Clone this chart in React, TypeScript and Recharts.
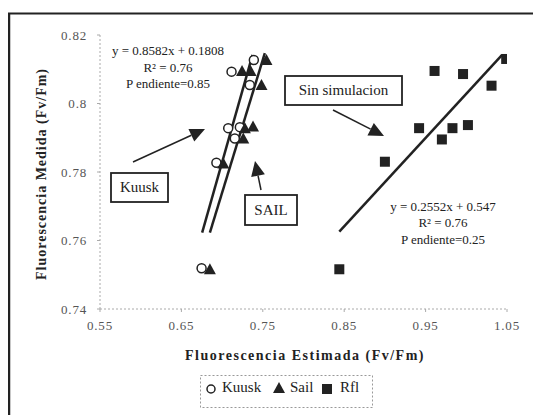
import React from 'react';
import { ScatterChart, Scatter, XAxis, YAxis } from 'recharts';

const kuusk = [
  { x: 0.739, y: 0.8127 },
  { x: 0.7116, y: 0.8093 },
  { x: 0.734, y: 0.8054 },
  { x: 0.7075, y: 0.7928 },
  { x: 0.7218, y: 0.7931 },
  { x: 0.7156, y: 0.7898 },
  { x: 0.693, y: 0.7827 },
  { x: 0.6748, y: 0.7519 },
];
const sail = [
  { x: 0.7545, y: 0.8127 },
  { x: 0.7245, y: 0.8095 },
  { x: 0.735, y: 0.8095 },
  { x: 0.7484, y: 0.8054 },
  { x: 0.728, y: 0.7928 },
  { x: 0.738, y: 0.7933 },
  { x: 0.726, y: 0.7898 },
  { x: 0.7015, y: 0.7825 },
  { x: 0.685, y: 0.7516 },
];
const rfl = [
  { x: 1.049, y: 0.813 },
  { x: 0.961, y: 0.8095 },
  { x: 0.996, y: 0.8086 },
  { x: 1.031, y: 0.8052 },
  { x: 0.942, y: 0.7928 },
  { x: 0.983, y: 0.7928 },
  { x: 1.002, y: 0.7937 },
  { x: 0.97, y: 0.7895 },
  { x: 0.9, y: 0.783 },
  { x: 0.844, y: 0.7516 },
];
const kuuskFit = [
  { x: 0.6755, y: 0.7623 },
  { x: 0.7374, y: 0.8142 },
];
const sailFit = [
  { x: 0.685, y: 0.7623 },
  { x: 0.7525, y: 0.8147 },
];
const rflFit = [
  { x: 0.844, y: 0.7626 },
  { x: 1.044, y: 0.8142 },
];
const xTicks = [0.55, 0.65, 0.75, 0.85, 0.95, 1.05];
const yTicks = [0.74, 0.76, 0.78, 0.8, 0.82];

const FONT = '"Liberation Serif", "DejaVu Serif", serif';
const INK = '#222';

const CircleShape = (p: any) => (
  <circle cx={p.cx} cy={p.cy} r={4.5} fill="#fff" stroke={INK} strokeWidth={1.5} />
);
const TriShape = (p: any) => (
  <polygon
    points={`${p.cx},${p.cy - 6} ${p.cx - 6},${p.cy + 5} ${p.cx + 6},${p.cy + 5}`}
    fill={INK}
  />
);
const SquareShape = (p: any) => (
  <rect x={p.cx - 5} y={p.cy - 5} width={10} height={10} fill={INK} />
);
const NoShape = () => <g />;

function Arrow({ x1, y1, x2, y2 }: { x1: number; y1: number; x2: number; y2: number }) {
  const dx = x2 - x1;
  const dy = y2 - y1;
  const len = Math.sqrt(dx * dx + dy * dy);
  const ux = dx / len;
  const uy = dy / len;
  const hl = 15;
  const hw = 7;
  const bx = x2 - ux * hl;
  const by = y2 - uy * hl;
  const px = -uy;
  const py = ux;
  return (
    <g>
      <line x1={x1} y1={y1} x2={bx} y2={by} stroke={INK} strokeWidth={1.5} />
      <polygon
        points={`${x2},${y2} ${bx + px * hw},${by + py * hw} ${bx - px * hw},${by - py * hw}`}
        fill={INK}
      />
    </g>
  );
}

function Box({ x, y, w, h, text, size }: { x: number; y: number; w: number; h: number; text: string; size: number }) {
  return (
    <g>
      <rect x={x} y={y} width={w} height={h} fill="#fff" stroke={INK} strokeWidth={1.8} />
      <text x={x + w / 2} y={y + h / 2 + size * 0.33} textAnchor="middle" fontSize={size} fill={INK} fontFamily={FONT}>
        {text}
      </text>
    </g>
  );
}

export default function App() {
  const tickStyle = { fontSize: 13, fill: '#555', fontFamily: FONT, letterSpacing: 0.8 };
  return (
    <div style={{ position: 'relative', margin: '-8px 0 0 -8px', width: 541, height: 415, overflow: 'hidden', background: '#fff' }}>
      <ScatterChart width={541} height={415} margin={{ top: 35, right: 34, bottom: 76, left: 0 }}>
        <XAxis
          type="number"
          dataKey="x"
          domain={[0.55, 1.05]}
          ticks={xTicks}
          height={30}
          tick={tickStyle}
          tickSize={3}
          tickMargin={9}
          axisLine={{ stroke: '#aaa', strokeDasharray: '2 2' }}
          tickLine={{ stroke: '#aaa' }}
          allowDataOverflow
        />
        <YAxis
          type="number"
          dataKey="y"
          domain={[0.74, 0.82]}
          ticks={yTicks}
          width={100}
          tick={tickStyle}
          tickSize={3}
          tickMargin={10}
          axisLine={{ stroke: '#aaa', strokeDasharray: '2 2' }}
          tickLine={{ stroke: '#aaa' }}
          allowDataOverflow
        />
        <Scatter name="kuuskFit" data={kuuskFit} line={{ stroke: INK, strokeWidth: 2.5 }} shape={NoShape} isAnimationActive={false} legendType="none" />
        <Scatter name="sailFit" data={sailFit} line={{ stroke: INK, strokeWidth: 2.5 }} shape={NoShape} isAnimationActive={false} legendType="none" />
        <Scatter name="rflFit" data={rflFit} line={{ stroke: INK, strokeWidth: 2.5 }} shape={NoShape} isAnimationActive={false} legendType="none" />
        <Scatter name="Kuusk" data={kuusk} shape={CircleShape} isAnimationActive={false} />
        <Scatter name="Sail" data={sail} shape={TriShape} isAnimationActive={false} />
        <Scatter name="Rfl" data={rfl} shape={SquareShape} isAnimationActive={false} />
      </ScatterChart>
      <svg width={541} height={415} style={{ position: 'absolute', left: 0, top: 0, pointerEvents: 'none' }}>
        <line x1={9} y1={13} x2={9} y2={415} stroke={INK} strokeWidth={2.5} />
        <line x1={8} y1={13.5} x2={541} y2={13.5} stroke={INK} strokeWidth={2} />

        <g fontFamily={FONT} fill={INK} fontSize={13} textAnchor="middle">
          <text x={168} y={55}>y = 0.8582x + 0.1808</text>
          <text x={168} y={72}>R² = 0.76</text>
          <text x={168} y={88}>P endiente=0.85</text>
          <text x={443} y={211}>y = 0.2552x + 0.547</text>
          <text x={443} y={227}>R² = 0.76</text>
          <text x={443} y={244}>P endiente=0.25</text>
        </g>

        <Box x={111} y={173} w={57} h={29} text="Kuusk" size={15} />
        <Box x={245} y={195} w={52} h={30} text="SAIL" size={15} />
        <Box x={285} y={76} w={117} h={29} text="Sin simulacion" size={15} />

        <Arrow x1={133} y1={162} x2={205} y2={129} />
        <Arrow x1={261} y1={190} x2={255} y2={161} />
        <Arrow x1={333} y1={110} x2={384} y2={136} />

        <text x={305} y={360} textAnchor="middle" fontFamily={FONT} fontWeight="bold" fontSize={14} letterSpacing={1.5} fill={INK}>
          Fluorescencia Estimada (Fv/Fm)
        </text>
        <text
          x={0}
          y={0}
          transform="translate(46,174) rotate(-90)"
          textAnchor="middle"
          fontFamily={FONT}
          fontWeight="bold"
          fontSize={14}
          letterSpacing={1}
          fill={INK}
        >
          Fluorescencia Medida (Fv/Fm)
        </text>

        <rect x={200.5} y={375.5} width={172} height={32} fill="#fff" stroke="#999" strokeDasharray="2 2" />
        <circle cx={211} cy={389} r={4} fill="#fff" stroke={INK} strokeWidth={1.5} />
        <text x={222} y={392} fontFamily={FONT} fontSize={15} fill={INK}>Kuusk</text>
        <polygon points="279,382 273,393 285,393" fill={INK} />
        <text x={290} y={392} fontFamily={FONT} fontSize={15} fill={INK}>Sail</text>
        <rect x={322} y={384} width={10} height={10} fill={INK} />
        <text x={340} y={392} fontFamily={FONT} fontSize={15} fill={INK}>Rfl</text>
      </svg>
    </div>
  );
}
